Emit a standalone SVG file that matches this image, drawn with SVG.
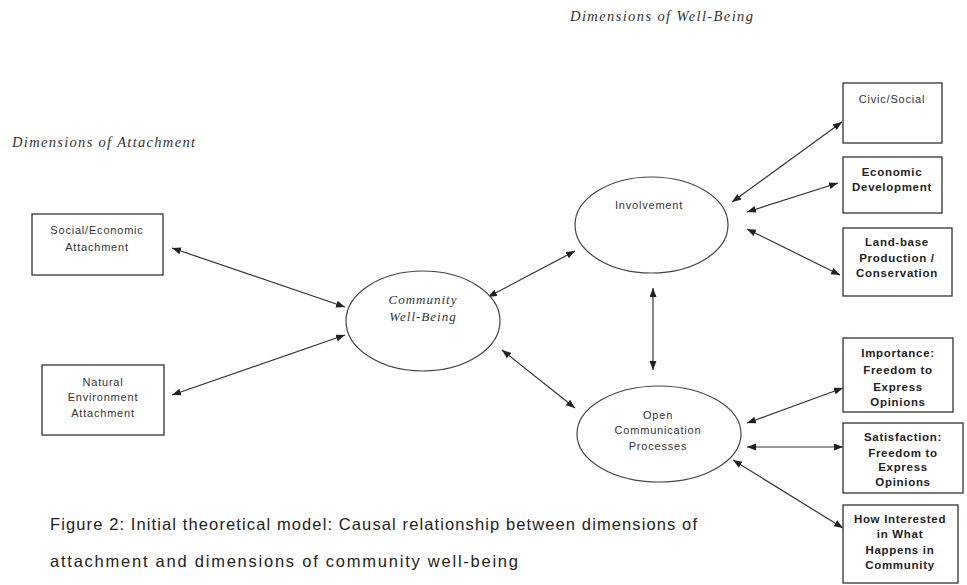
<svg xmlns="http://www.w3.org/2000/svg" width="967" height="585" viewBox="0 0 967 585">
<style>
.box{fill:#fff;stroke:#333;stroke-width:1.3}
.ell{fill:#fff;stroke:#444;stroke-width:1.2}
.t{font-family:"Liberation Sans",Arial,sans-serif;font-size:11px;fill:#333;text-anchor:middle;letter-spacing:0.8px}
.b{font-family:"Liberation Sans",Arial,sans-serif;font-size:11.5px;font-weight:bold;fill:#222;text-anchor:middle;letter-spacing:0.7px}
.i{font-family:"Liberation Serif","Times New Roman",serif;font-style:italic;fill:#333}
.cap{font-family:"Liberation Sans",Arial,sans-serif;font-size:16.5px;fill:#222}
.c line{stroke:#333;stroke-width:1.2;marker-start:url(#ah);marker-end:url(#ah)}
</style>
<defs>
<marker id="ah" markerUnits="userSpaceOnUse" markerWidth="10" markerHeight="8" refX="9" refY="3.5" orient="auto-start-reverse">
<path d="M0,0 L9,3.5 L0,7 z" fill="#222"/>
</marker>
</defs>
<rect width="967" height="585" fill="#fff"/>
<text class="i" x="570" y="21" font-size="14.5" textLength="183">Dimensions of Well-Being</text>
<text class="i" x="12" y="147" font-size="14.5" textLength="183">Dimensions of Attachment</text>

<g class="c">
<line x1="172" y1="248" x2="345" y2="307"/>
<line x1="172" y1="395" x2="345" y2="335"/>
<line x1="488" y1="297" x2="575" y2="251"/>
<line x1="502" y1="350" x2="575" y2="408"/>
<line x1="653" y1="288" x2="653" y2="370"/>
<line x1="732" y1="202" x2="842" y2="122"/>
<line x1="747" y1="212" x2="838" y2="183"/>
<line x1="747" y1="229" x2="840" y2="275"/>
<line x1="747" y1="423" x2="843" y2="388"/>
<line x1="747" y1="447" x2="843" y2="447"/>
<line x1="733" y1="460" x2="843" y2="528"/>
</g>

<g id="social-economic">
<rect class="box" x="32" y="214" width="131" height="61"/>
<text class="t" x="97" y="234">Social/Economic</text>
<text class="t" x="97" y="251">Attachment</text>
</g>
<g id="natural-environment">
<rect class="box" x="42" y="365" width="122" height="70"/>
<text class="t" x="103" y="386">Natural</text>
<text class="t" x="103" y="401">Environment</text>
<text class="t" x="103" y="417">Attachment</text>
</g>
<g id="community-well-being">
<ellipse class="ell" cx="423" cy="321" rx="77" ry="50"/>
<text class="i" x="423" y="304" font-size="13" text-anchor="middle" letter-spacing="1">Community</text>
<text class="i" x="423" y="321" font-size="13" text-anchor="middle" letter-spacing="1">Well-Being</text>
</g>
<g id="involvement">
<ellipse class="ell" cx="651.5" cy="225" rx="76.5" ry="48"/>
<text class="t" x="649" y="209">Involvement</text>
</g>
<g id="open-communication">
<ellipse class="ell" cx="659" cy="434" rx="82" ry="48"/>
<text class="t" x="658" y="419">Open</text>
<text class="t" x="658" y="434">Communication</text>
<text class="t" x="658" y="450">Processes</text>
</g>
<g id="civic-social">
<rect class="box" x="843" y="83" width="99" height="60"/>
<text class="t" x="892" y="103">Civic/Social</text>
</g>
<g id="economic-development">
<rect class="box" x="843" y="157" width="99" height="56"/>
<text class="b" x="892" y="176">Economic</text>
<text class="b" x="892" y="191">Development</text>
</g>
<g id="land-base">
<rect class="box" x="843" y="228" width="109" height="68"/>
<text class="b" x="897" y="246">Land-base</text>
<text class="b" x="897" y="262">Production /</text>
<text class="b" x="897" y="277">Conservation</text>
</g>
<g id="importance">
<rect class="box" x="843" y="338" width="110" height="74"/>
<text class="b" x="898" y="357">Importance:</text>
<text class="b" x="898" y="374">Freedom to</text>
<text class="b" x="898" y="391">Express</text>
<text class="b" x="898" y="406">Opinions</text>
</g>
<g id="satisfaction">
<rect class="box" x="843" y="423" width="120" height="70"/>
<text class="b" x="903" y="441">Satisfaction:</text>
<text class="b" x="903" y="457">Freedom to</text>
<text class="b" x="903" y="471">Express</text>
<text class="b" x="903" y="486">Opinions</text>
</g>
<g id="how-interested">
<rect class="box" x="843" y="505" width="115" height="78"/>
<text class="b" x="900" y="523">How Interested</text>
<text class="b" x="900" y="538">in What</text>
<text class="b" x="900" y="554">Happens in</text>
<text class="b" x="900" y="569">Community</text>
</g>

<text class="cap" x="50" y="530" textLength="647">Figure 2: Initial theoretical model: Causal relationship between dimensions of</text>
<text class="cap" x="50" y="567" textLength="468">attachment and dimensions of community well-being</text>
</svg>
